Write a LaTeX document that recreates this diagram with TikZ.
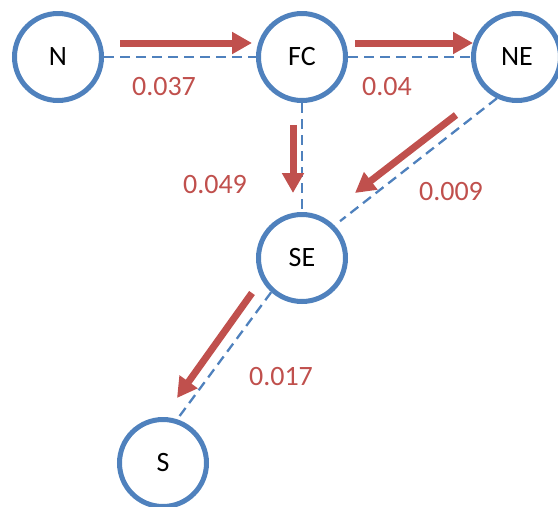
\documentclass[tikz,border=0pt]{standalone}
\usepackage{fontspec}
\setmainfont{Carlito}
\usetikzlibrary{arrows.meta}
\definecolor{nodeblue}{HTML}{4F81BD}
\definecolor{flowred}{HTML}{C0504D}
\tikzset{
  region/.style={circle, draw=nodeblue, line width=5pt, fill=white,
    minimum size=87pt, inner sep=0pt, font=\fontsize{28}{32}\selectfont},
  link/.style={draw=nodeblue, line width=2.3pt, dash pattern=on 10pt off 6pt},
  flow/.style={draw=flowred, line width=7pt,
    -{Triangle[length=20pt,width=21pt]}},
  weight/.style={text=flowred, font=\fontsize{28}{32}\selectfont}
}
\begin{document}
\begin{tikzpicture}[x=1pt,y=-1pt]
  \useasboundingbox (0,0) rectangle (558,507);
  % regions
  \node[region] (N)  at (58,57)  {N};
  \node[region] (FC) at (302,57) {FC};
  \node[region] (NE) at (517,57) {NE};
  \node[region] (SE) at (302,258) {SE};
  \node[region] (S)  at (163,463) {S};
  % links between regions
  \draw[link] (N.east) -- (FC.west);
  \draw[link] (FC.east) -- (NE.west);
  \draw[link] (FC.south) -- (SE.north);
  \draw[link, shorten >=7pt] (NE.244) -- (SE.45);
  \draw[link] (SE.228) -- (S.72);
  % flow arrows
  \coordinate (a1s) at (120,43);  \coordinate (a1e) at (252,43);
  \coordinate (a2s) at (355,43);  \coordinate (a2e) at (473,43);
  \coordinate (a3s) at (293,125); \coordinate (a3e) at (293,193);
  \coordinate (a4s) at (456,115); \coordinate (a4e) at (355,193);
  \coordinate (a5s) at (252,293); \coordinate (a5e) at (177,398);
  \draw[flow] (a1s) -- (a1e);
  \draw[flow] (a2s) -- (a2e);
  \draw[flow] (a3s) -- (a3e);
  \draw[flow] (a4s) -- (a4e);
  \draw[flow] (a5s) -- (a5e);
  % weights
  \node[weight] (w1) at (164,87)  {0.037};
  \node[weight] (w2) at (387,87)  {0.04};
  \node[weight] (w3) at (215,185) {0.049};
  \node[weight] (w4) at (451,192) {0.009};
  \node[weight] (w5) at (281,377) {0.017};
\end{tikzpicture}
\end{document}
